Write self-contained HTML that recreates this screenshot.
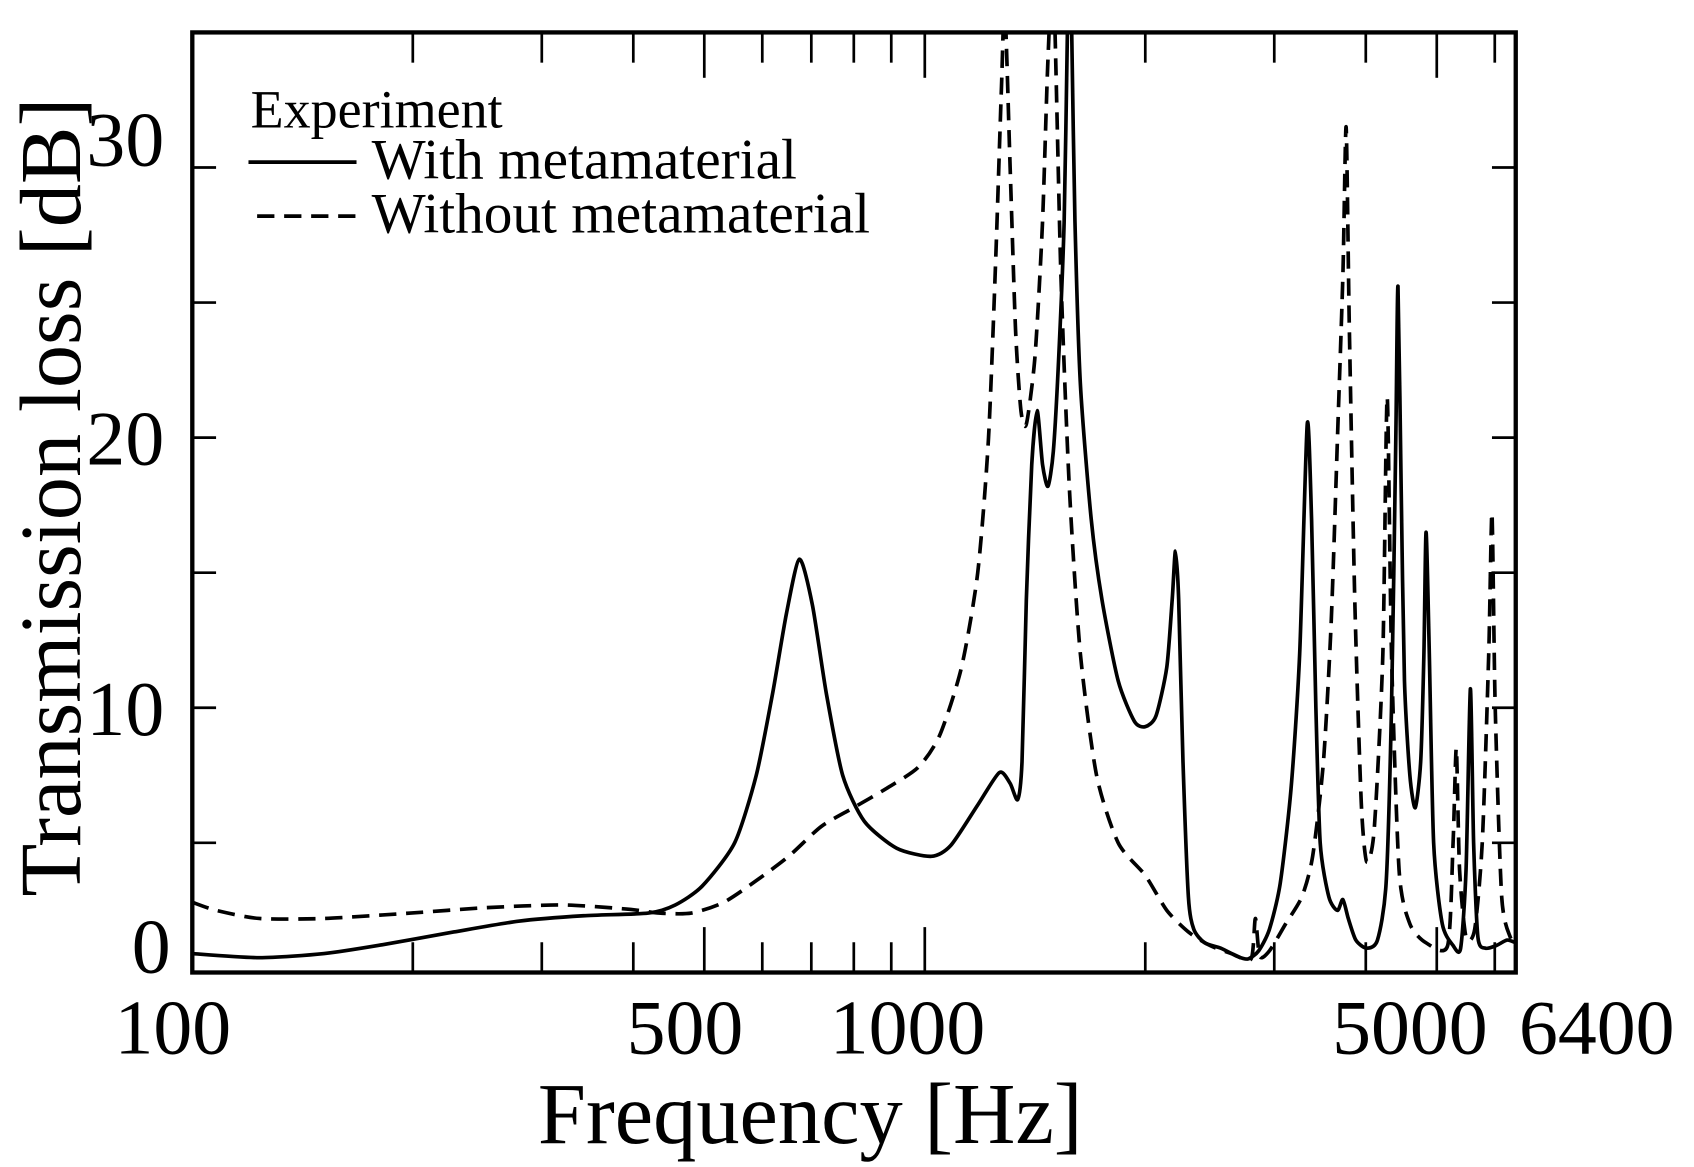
<!DOCTYPE html>
<html><head><meta charset="utf-8"><style>
html,body{margin:0;padding:0;background:#fff;}
svg{display:block;}
text{font-family:"Liberation Serif",serif;fill:#000;}
</style></head><body>
<svg id="s" width="1694" height="1167" viewBox="0 0 1568 1080" preserveAspectRatio="none" xmlns="http://www.w3.org/2000/svg">
<defs><clipPath id="c"><rect x="178" y="30" width="1225" height="870"/></clipPath></defs>
<g id="ticks" stroke="#000" stroke-width="2.5"></g>
<g clip-path="url(#c)" fill="none" stroke="#000" stroke-width="3.4" stroke-linejoin="round">
<path id="sol"/>
<path id="dsh" stroke-dasharray="16,9"/>
</g>
<rect x="178" y="30" width="1225" height="870" fill="none" stroke="#000" stroke-width="4"/>
<g font-size="72" text-anchor="end">
<text x="158" y="900">0</text>
<text x="152" y="680">10</text>
<text x="152" y="430">20</text>
<text x="152" y="153">30</text>
</g>
<g font-size="72" text-anchor="middle">
<text x="160" y="975">100</text>
<text x="634" y="975">500</text>
<text x="840" y="975">1000</text>
<text x="1305" y="975">5000</text>
<text x="1478" y="975">6400</text>
</g>
<text x="750" y="1058" font-size="80" text-anchor="middle">Frequency [Hz]</text>
<text transform="translate(74,460) rotate(-90)" font-size="80" text-anchor="middle">Transmission loss [dB]</text>
<text x="232" y="118" font-size="50">Experiment</text>
<line x1="230" y1="150" x2="330" y2="150" stroke="#000" stroke-width="3.5"/>
<text x="344" y="165" font-size="53">With metamaterial</text>
<line x1="238" y1="200" x2="330" y2="200" stroke="#000" stroke-width="3.5" stroke-dasharray="16,9"/>
<text x="344" y="215" font-size="53">Without metamaterial</text>
</svg>
<script>
function Y(d){return 905-25*d;}
function mk(p){
var P=p.map(function(q){return [q[0],Y(q[1])];});
var d='M'+P[0][0]+','+P[0][1].toFixed(1);var k=0.12;
for(var i=0;i<P.length-1;i++){
var p0=P[Math.max(i-1,0)],p1=P[i],p2=P[i+1],p3=P[Math.min(i+2,P.length-1)];
var c1x=p1[0]+(p2[0]-p0[0])*k,c1y=p1[1]+(p2[1]-p0[1])*k;
var c2x=p2[0]-(p3[0]-p1[0])*k,c2y=p2[1]-(p3[1]-p1[1])*k;
d+=' C'+c1x.toFixed(1)+','+c1y.toFixed(1)+' '+c2x.toFixed(1)+','+c2y.toFixed(1)+' '+p2[0]+','+p2[1].toFixed(1);}
return d;}
var sol=[[178,0.9],[240,0.75],[300,0.9],[350,1.2],[420,1.7],[480,2.1],[540,2.3],[600,2.4],[625,2.7],[650,3.4],[680,5],[700,7.5],[715,10.5],[728,13.5],[740,15.5],[752,13.8],[765,10.5],[780,7.5],[800,5.8],[830,4.8],[862,4.5],[880,4.9],[905,6.4],[925,7.6],[935,7.2],[942,6.6],[946,8],[950,14],[955,19],[960,21],[965,19],[970,18.2],[975,19.5],[980,23],[985,28],[988,35],[990,38],[992,35],[995,28],[1000,22],[1010,17],[1020,14],[1035,11],[1050,9.5],[1060,9.3],[1070,9.7],[1080,11.5],[1085,14],[1088,15.8],[1091,14],[1095,8],[1100,3],[1105,1.8],[1115,1.3],[1130,1.1],[1145,0.8],[1155,0.7],[1165,1],[1175,1.8],[1185,3.5],[1195,7],[1203,12],[1210,20.5],[1214,17],[1218,10],[1222,5],[1230,3],[1238,2.5],[1243,2.9],[1248,2.2],[1255,1.4],[1265,1.1],[1275,1.4],[1283,3.5],[1288,10],[1292,20],[1294,25.6],[1297,18],[1300,11],[1305,7.5],[1310,6.3],[1315,8],[1318,12],[1320,16.5],[1323,12],[1327,5],[1335,2],[1345,1.2],[1352,1.1],[1357,4],[1361,10.7],[1364,5],[1368,1.5],[1375,1.1],[1385,1.2],[1395,1.4],[1403,1.3]];
var dsh=[[178,2.8],[200,2.5],[240,2.2],[300,2.2],[380,2.4],[450,2.6],[520,2.7],[580,2.55],[610,2.4],[640,2.4],[670,2.8],[700,3.6],[730,4.5],[760,5.6],[790,6.3],[820,7],[850,7.8],[870,9],[890,11.5],[905,15],[915,20],[922,27],[927,33],[930,36],[935,30],[940,24],[945,21],[950,20.5],[958,23],[965,28],[970,34],[975,37],[982,26],[990,18],[1000,12],[1015,7.5],[1035,5],[1060,3.8],[1080,2.5],[1100,1.7],[1120,1.2],[1140,0.9],[1158,0.7],[1162,2.2],[1166,0.8],[1175,1],[1190,2],[1205,3],[1215,4.5],[1225,8],[1232,13],[1238,20],[1243,26],[1246,31.5],[1249,24],[1254,14],[1260,6.5],[1265,4.3],[1272,5.5],[1280,12],[1284,21.5],[1288,12],[1295,4],[1305,2],[1320,1.3],[1340,1.2],[1345,5],[1348,8.5],[1351,4],[1357,1.5],[1365,1.8],[1372,5],[1378,12],[1381,17.2],[1384,10],[1390,3],[1398,1.5],[1403,1.4]];
document.getElementById('sol').setAttribute('d',mk(sol));
document.getElementById('dsh').setAttribute('d',mk(dsh));
var t='';
for(var d=5;d<=30;d+=5){var y=Y(d);t+='<line x1="178" y1="'+y+'" x2="200" y2="'+y+'"/><line x1="1381" y1="'+y+'" x2="1403" y2="'+y+'"/>';}
[200,300,400,500,600,700,800,900,1000,2000,3000,4000,5000,6000].forEach(function(f){
var x=178+678*(Math.log10(f)-2);var L=(f==500||f==1000||f==5000)?42:28;
t+='<line x1="'+x+'" y1="900" x2="'+x+'" y2="'+(900-L)+'"/><line x1="'+x+'" y1="30" x2="'+x+'" y2="'+(30+L)+'"/>';});
document.getElementById('ticks').innerHTML=t;
</script>
</body></html>
